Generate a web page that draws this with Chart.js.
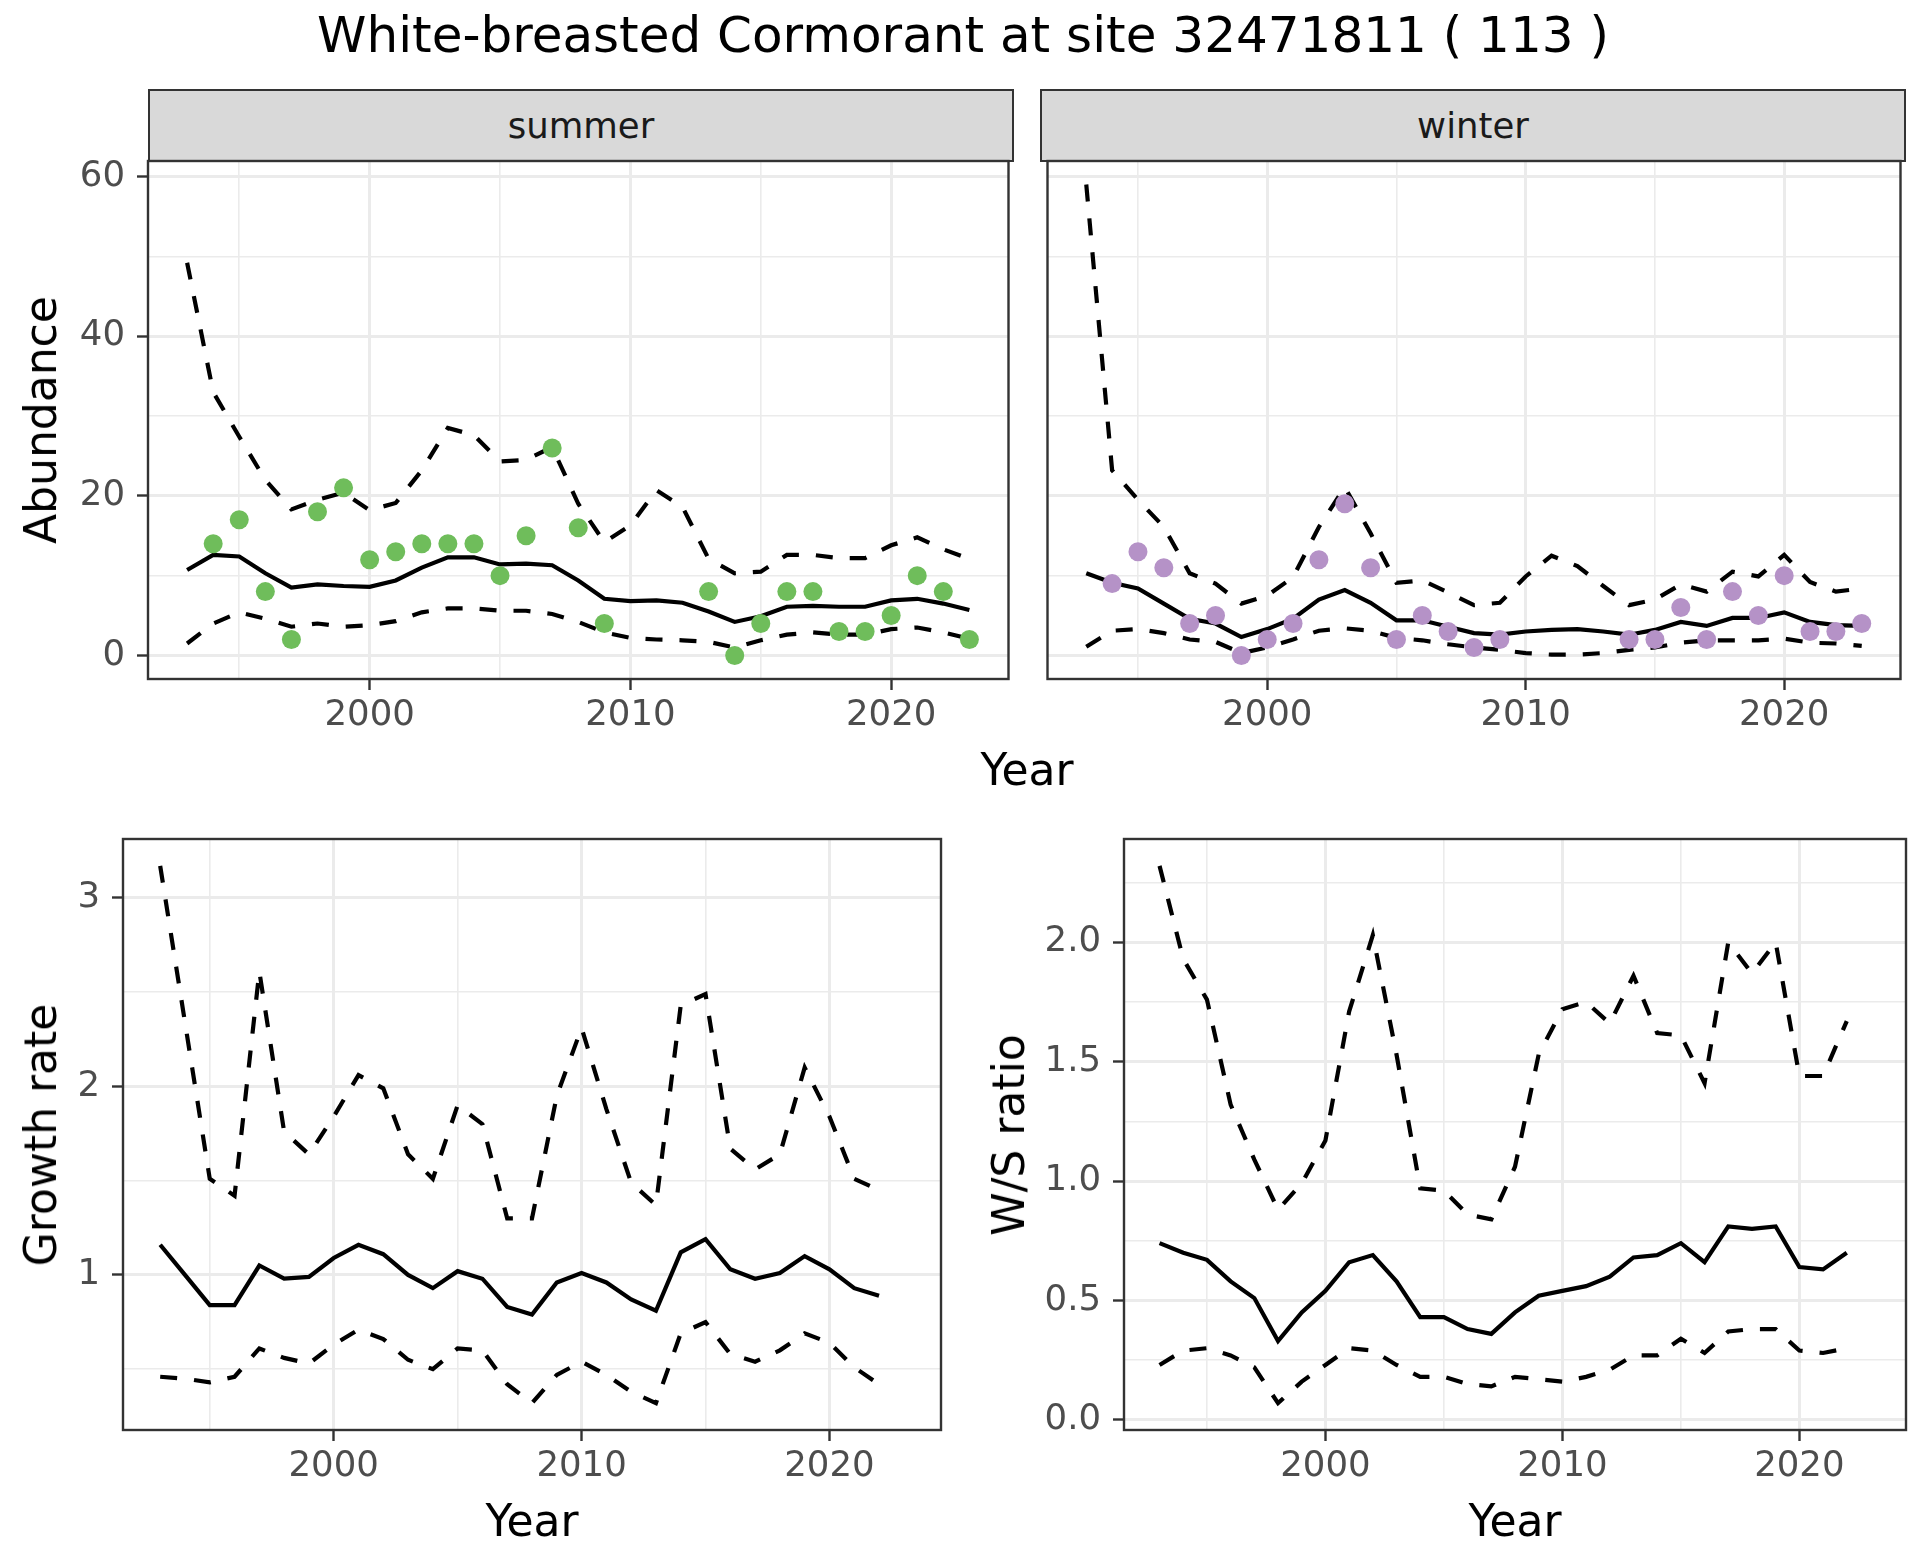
<!DOCTYPE html>
<html>
<head>
<meta charset="utf-8">
<script src="https://cdn.jsdelivr.net/npm/chart.js@4.4.1/dist/chart.umd.min.js"></script>
<style>
  body { margin: 0; width: 1920px; height: 1560px; background: #fff; position: relative; overflow: hidden; font-family: "DejaVu Sans", sans-serif; }
  canvas { position: absolute; }
  .lbl { position: absolute; white-space: nowrap; line-height: 1; color: #000; transform: translate(-50%, -50%); }
  .rot { transform: translate(-50%, -50%) rotate(-90deg); }
  .strip { position: absolute; box-sizing: border-box; background: #d9d9d9; border: 2.4px solid #333; color: #1a1a1a; font-size: 35.5px; display: flex; align-items: center; justify-content: center; }
</style>
</head>
<body>

<div class="lbl" style="left:963px; top:35px; font-size:50px;">White-breasted Cormorant at site 32471811 ( 113 )</div>

<div class="strip" style="left:148px; top:89px; width:866px; height:73px;">summer</div>
<div class="strip" style="left:1040px; top:89px; width:866px; height:73px;">winter</div>

<canvas id="summerChart"></canvas>
<canvas id="winterChart"></canvas>
<canvas id="growthChart"></canvas>
<canvas id="ratioChart"></canvas>

<div class="lbl" style="left:1027px; top:770px; font-size:44px;">Year</div>
<div class="lbl rot" style="left:41px; top:420px; font-size:44px;">Abundance</div>
<div class="lbl" style="left:532px; top:1521px; font-size:44px;">Year</div>
<div class="lbl rot" style="left:41px; top:1135px; font-size:44px;">Growth rate</div>
<div class="lbl" style="left:1515px; top:1521px; font-size:44px;">Year</div>
<div class="lbl rot" style="left:1009px; top:1135px; font-size:44px;">W/S ratio</div>

<script>
// ---- data ----
const years = [1993, 1994, 1995, 1996, 1997, 1998, 1999, 2000, 2001, 2002, 2003, 2004, 2005, 2006, 2007, 2008,
  2009, 2010, 2011, 2012, 2013, 2014, 2015, 2016, 2017, 2018, 2019, 2020, 2021, 2022, 2023];

const summerMean = [10.7, 12.6, 12.4, 10.3, 8.5, 8.9, 8.7, 8.6, 9.4, 11.0, 12.3, 12.3, 11.4, 11.5, 11.3, 9.4,
  7.1, 6.8, 6.9, 6.6, 5.5, 4.2, 4.9, 6.1, 6.2, 6.1, 6.1, 6.9, 7.1, 6.5, 5.7];
const summerUpper = [49.2, 33.0, 27.4, 22.0, 18.3, 19.5, 20.4, 18.2, 19.1, 23.2, 28.5, 27.6, 24.3, 24.5, 26.1, 19.0,
  14.2, 16.3, 20.7, 18.6, 12.1, 10.3, 10.5, 12.6, 12.6, 12.2, 12.2, 13.8, 14.8, 13.3, 12.1];
const summerLower = [1.5, 4.0, 5.4, 4.6, 3.6, 4.0, 3.6, 3.8, 4.3, 5.4, 5.9, 5.9, 5.6, 5.6, 5.2, 4.2,
  2.9, 2.2, 2.0, 1.9, 1.7, 1.0, 1.9, 2.6, 2.9, 2.6, 2.6, 3.3, 3.5, 2.9, 2.1];
const summerCounts = [null, 14, 17, 8, 2, 18, 21, 12, 13, 14, 14, 14, 10, 15, 26, 16,
  4, null, null, null, 8, 0, 4, 8, 8, 3, 3, 5, 10, 8, 2];

const winterMean = [10.3, 9.1, 8.4, 6.5, 4.6, 4.0, 2.3, 3.3, 4.6, 7.0, 8.2, 6.6, 4.4, 4.4, 3.6, 2.8,
  2.6, 3.0, 3.2, 3.3, 3.0, 2.6, 3.2, 4.2, 3.7, 4.7, 4.7, 5.4, 4.2, 3.8, 3.7];
const winterUpper = [59.0, 23.2, 19.5, 16.1, 10.3, 9.0, 6.5, 7.5, 9.8, 16.1, 21.1, 15.3, 9.1, 9.4, 7.9, 6.3,
  6.6, 9.9, 12.5, 11.2, 8.7, 6.3, 7.0, 8.9, 8.0, 10.5, 9.9, 12.6, 9.2, 8.0, 8.4];
const winterLower = [1.1, 3.1, 3.3, 2.8, 2.0, 1.7, 0.3, 1.0, 2.0, 3.1, 3.4, 3.1, 2.2, 1.9, 1.4, 1.0,
  0.7, 0.3, 0.1, 0.1, 0.3, 0.7, 1.0, 1.6, 1.9, 1.9, 1.9, 2.1, 1.6, 1.5, 1.2];
const winterCounts = [null, 9, 13, 11, 4, 5, 0, 2, 4, 12, 19, 11, 2, 5, 3, 1,
  2, null, null, null, null, 2, 2, 6, 2, 8, 5, 10, 3, 3, 4];

const rateYears = [1993, 1994, 1995, 1996, 1997, 1998, 1999, 2000, 2001, 2002, 2003, 2004, 2005, 2006, 2007,
  2008, 2009, 2010, 2011, 2012, 2013, 2014, 2015, 2016, 2017, 2018, 2019, 2020, 2021, 2022];

const growthMean = [1.16, 1.00, 0.84, 0.84, 1.05, 0.98, 0.99, 1.09, 1.16, 1.11, 1.00, 0.93, 1.02, 0.98, 0.83,
  0.79, 0.96, 1.01, 0.96, 0.87, 0.81, 1.12, 1.19, 1.03, 0.98, 1.01, 1.10, 1.03, 0.93, 0.89];
const growthUpper = [3.17, 2.34, 1.51, 1.42, 2.61, 1.76, 1.64, 1.84, 2.06, 1.99, 1.64, 1.51, 1.90, 1.80, 1.30,
  1.30, 1.95, 2.31, 1.88, 1.49, 1.37, 2.43, 2.49, 1.67, 1.56, 1.64, 2.10, 1.84, 1.51, 1.45];
const growthLower = [0.46, 0.45, 0.43, 0.46, 0.61, 0.56, 0.53, 0.63, 0.71, 0.66, 0.55, 0.50, 0.61, 0.60, 0.42,
  0.32, 0.47, 0.54, 0.47, 0.38, 0.32, 0.69, 0.75, 0.58, 0.54, 0.60, 0.69, 0.64, 0.51, 0.42];

const ratioMean = [0.74, 0.70, 0.67, 0.58, 0.51, 0.33, 0.45, 0.54, 0.66, 0.69, 0.58, 0.43, 0.43, 0.38, 0.36,
  0.45, 0.52, 0.54, 0.56, 0.60, 0.68, 0.69, 0.74, 0.66, 0.81, 0.80, 0.81, 0.64, 0.63, 0.70];
const ratioUpper = [2.32, 1.93, 1.76, 1.32, 1.09, 0.88, 0.99, 1.17, 1.71, 2.03, 1.53, 0.97, 0.96, 0.86, 0.84,
  1.06, 1.53, 1.72, 1.75, 1.66, 1.86, 1.62, 1.61, 1.41, 2.00, 1.87, 2.00, 1.44, 1.44, 1.67];
const ratioLower = [0.23, 0.29, 0.30, 0.27, 0.22, 0.07, 0.16, 0.23, 0.30, 0.29, 0.23, 0.18, 0.18, 0.15, 0.14,
  0.18, 0.17, 0.16, 0.18, 0.21, 0.27, 0.27, 0.34, 0.28, 0.37, 0.38, 0.38, 0.29, 0.28, 0.30];

// tick positions (major ones get labels)
const yearTicks = [1995, 2000, 2005, 2010, 2015, 2020];
const yearMajor = [2000, 2010, 2020];
const abundTicks = [0, 10, 20, 30, 40, 50, 60];
const abundMajor = [0, 20, 40, 60];
const growthTicks = [0.5, 1, 1.5, 2, 2.5, 3];
const growthMajor = [1, 2, 3];
const ratioTicks = [0, 0.25, 0.5, 0.75, 1, 1.25, 1.5, 1.75, 2, 2.25];
const ratioMajor = [0, 0.5, 1, 1.5, 2];

const GRID = "#ebebeb";
const INK = "#333333";
const GREEN = "#6fbd5b";
const PURPLE = "#b592c7";

// ggplot style 5% expansion of the data range
function limits(...arrs) {
  const v = arrs.flat().filter(x => x !== null);
  const lo = Math.min(...v), hi = Math.max(...v);
  const pad = (hi - lo) * 0.05;
  return [lo - pad, hi + pad];
}

function isMajor(v, list) {
  return list.some(m => Math.abs(m - v) < 1e-9);
}

function pairs(xs, ys) {
  return xs.map((x, i) => ({ x: x, y: ys[i] })).filter(p => p.y !== null);
}

function lineSet(xs, ys, dashed) {
  return {
    type: "line", data: pairs(xs, ys), borderColor: "#000", borderWidth: 4.2,
    borderDash: dashed ? [17, 17] : [], pointRadius: 0, tension: 0, fill: false
  };
}

function pointSet(xs, ys, color) {
  return {
    type: "scatter", data: pairs(xs, ys), backgroundColor: color, borderWidth: 0,
    pointRadius: 9.5, pointHoverRadius: 9.5
  };
}

function axis(ticks, major, lim, showLabels, fmt, pad) {
  return {
    type: "linear", min: lim[0], max: lim[1],
    afterBuildTicks: s => { s.ticks = ticks.map(v => ({ value: v })); },
    border: { display: false },
    grid: {
      color: GRID,
      lineWidth: c => isMajor(c.tick.value, major) ? 3 : 1.6,
      drawTicks: showLabels,
      tickLength: 11,
      tickWidth: 2.4,
      tickColor: c => isMajor(c.tick.value, major) ? INK : "rgba(0,0,0,0)"
    },
    ticks: {
      display: showLabels, autoSkip: false, maxRotation: 0, minRotation: 0,
      padding: pad, color: "#4d4d4d",
      font: { family: "DejaVu Sans", size: 35.5 },
      callback: v => isMajor(v, major) ? fmt(v) : ""
    }
  };
}

// panel border drawn over the data, like theme_bw
const frame = {
  id: "frame",
  afterDatasetsDraw(chart) {
    const a = chart.chartArea, ctx = chart.ctx;
    ctx.save();
    ctx.strokeStyle = INK;
    ctx.lineWidth = 2.4;
    ctx.strokeRect(a.left, a.top, a.right - a.left, a.bottom - a.top);
    ctx.restore();
  }
};

function panel(id, box, yW, xAxis, yAxis, datasets) {
  const PADT = 40, XH = 70, PADR = 4;
  const cv = document.getElementById(id);
  cv.width = yW + (box.R - box.L) + PADR;
  cv.height = PADT + (box.B - box.T) + XH;
  cv.style.left = (box.L - yW) + "px";
  cv.style.top = (box.T - PADT) + "px";
  xAxis.afterFit = s => { s.height = XH; };
  yAxis.afterFit = s => { s.width = yW; };
  return new Chart(cv, {
    data: { datasets: datasets },
    options: {
      responsive: false, animation: false, devicePixelRatio: 1,
      layout: { padding: { top: PADT, right: PADR, left: 0, bottom: 0 } },
      plugins: { legend: { display: false }, tooltip: { enabled: false } },
      scales: { x: xAxis, y: yAxis }
    },
    plugins: [frame]
  });
}

// all four panels share the 1993-2023 year range
const yearLim = limits(years);
const abundLim = limits(summerUpper, summerLower, summerCounts, winterUpper, winterLower, winterCounts);
const growthLim = limits(growthUpper, growthLower, growthMean);
const ratioLim = limits(ratioUpper, ratioLower, ratioMean);

const intFmt = v => String(v);
const oneDec = v => v.toFixed(1);

const xAx = () => axis(yearTicks, yearMajor, yearLim, true, intFmt, 4);

panel("summerChart", { L: 148, T: 161, R: 1014, B: 679 }, 100,
  xAx(), axis(abundTicks, abundMajor, abundLim, true, intFmt, 12),
  [pointSet(years, summerCounts, GREEN),
   lineSet(years, summerMean, false),
   lineSet(years, summerUpper, true),
   lineSet(years, summerLower, true)]);

panel("winterChart", { L: 1040, T: 161, R: 1906, B: 679 }, 2,
  xAx(), axis(abundTicks, abundMajor, abundLim, false, intFmt, 12),
  [pointSet(years, winterCounts, PURPLE),
   lineSet(years, winterMean, false),
   lineSet(years, winterUpper, true),
   lineSet(years, winterLower, true)]);

panel("growthChart", { L: 123, T: 839, R: 941, B: 1430 }, 100,
  xAx(), axis(growthTicks, growthMajor, growthLim, true, intFmt, 12),
  [lineSet(rateYears, growthMean, false),
   lineSet(rateYears, growthUpper, true),
   lineSet(rateYears, growthLower, true)]);

panel("ratioChart", { L: 1124, T: 839, R: 1906, B: 1430 }, 100,
  xAx(), axis(ratioTicks, ratioMajor, ratioLim, true, oneDec, 12),
  [lineSet(rateYears, ratioMean, false),
   lineSet(rateYears, ratioUpper, true),
   lineSet(rateYears, ratioLower, true)]);
</script>
</body>
</html>
